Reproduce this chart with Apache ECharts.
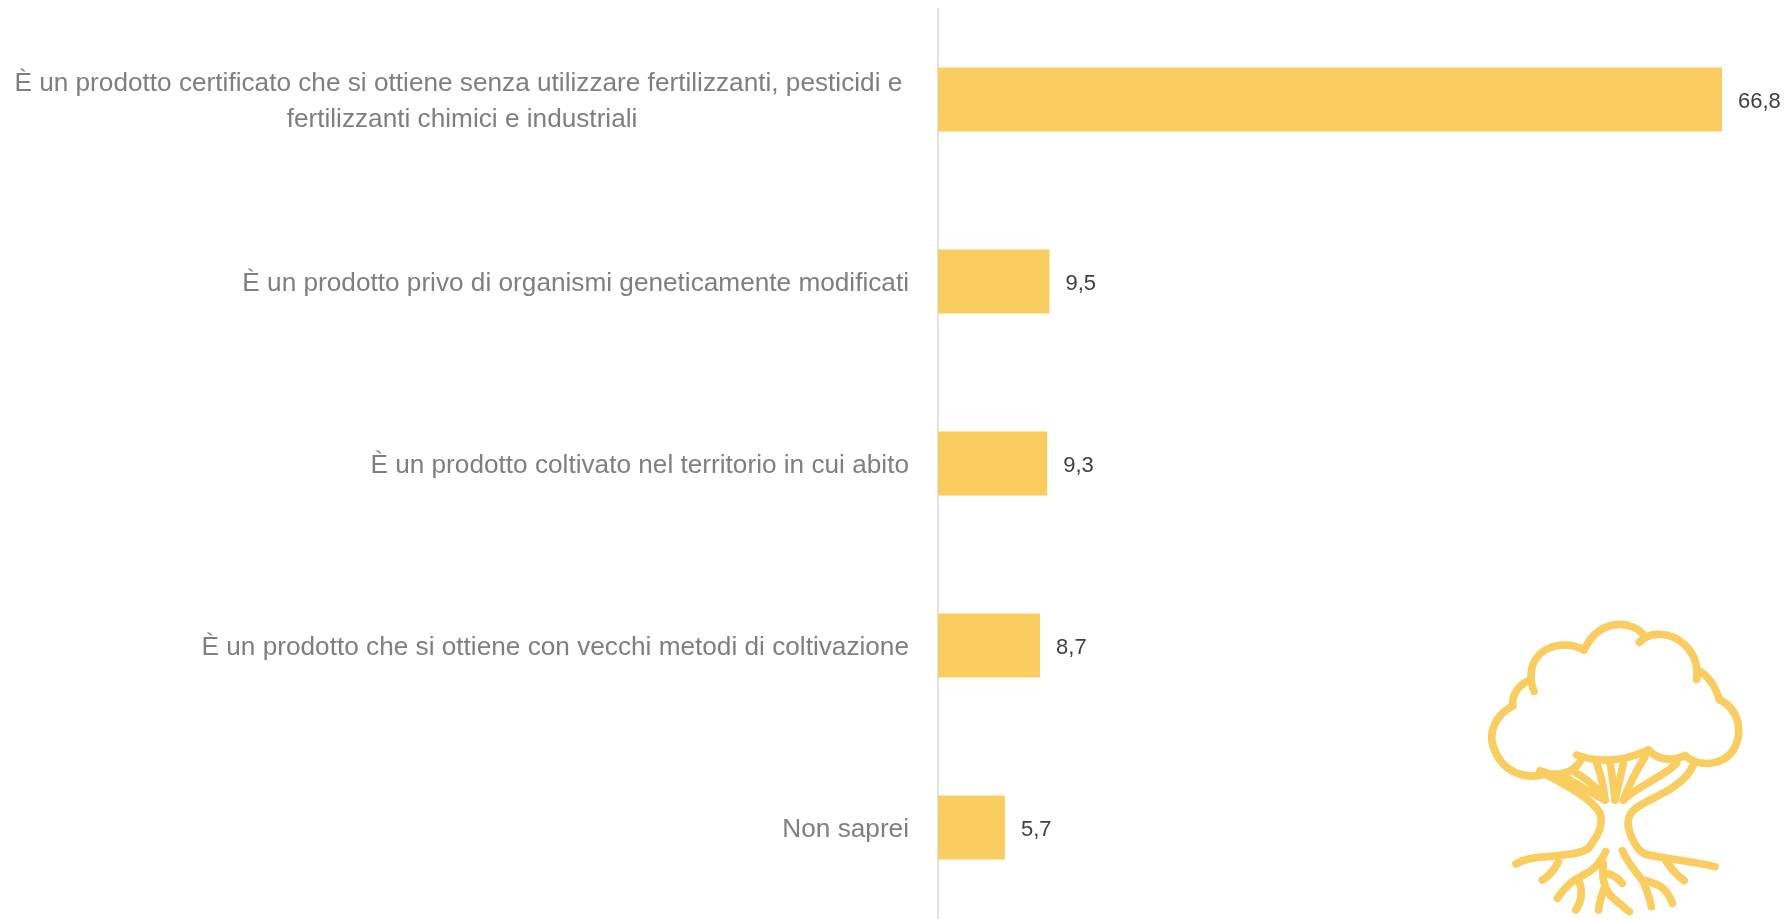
<!DOCTYPE html><html><head><meta charset="utf-8"><style>html,body{margin:0;padding:0;background:#fff}#c{width:1785px;height:919px}</style><script src="https://cdn.jsdelivr.net/npm/echarts@6/dist/echarts.min.js"></script></head><body><div id="c"></div><script>
const categories=["È un prodotto certificato che si ottiene senza utilizzare fertilizzanti, pesticidi e \nfertilizzanti chimici e industriali","È un prodotto privo di organismi geneticamente modificati","È un prodotto coltivato nel territorio in cui abito","È un prodotto che si ottiene con vecchi metodi di coltivazione","Non saprei"];
const values=[66.8,9.5,9.3,8.7,5.7];
const treePaths=[
"M350 465C420 490 490 485 565 450C600 485 640 482 675 467C720 505 790 495 820 450C850 400 840 330 778 298C765 260 750 230 712 210",
"M710 238C720 150 650 100 590 103C570 103 555 110 538 127",
"M555 110C520 60 420 50 372 150C310 115 210 140 213 235C213 250 217 262 222 274",
"M213 240C180 250 155 280 158 318C105 345 85 400 100 440C125 520 200 540 255 522",
"M240 512C280 530 335 525 360 485",
"M255 522C320 555 400 600 420 640C430 670 420 700 385 745C360 765 300 765 260 770C220 772 190 778 168 792",
"M310 530C360 555 410 590 435 600","M345 517C370 530 400 555 425 580","M410 490C425 530 432 565 435 600",
"M450 490C458 530 462 570 465 600","M490 490C482 530 472 570 465 600","M555 470C530 510 505 560 490 600","M650 490C620 525 530 560 490 600",
"M700 495C680 545 620 575 570 600C520 625 500 640 505 680C510 710 530 750 555 762C600 775 680 780 765 800",
"M295 785C280 815 265 830 247 840","M618 783C640 815 655 830 673 842",
"M437 755C425 780 410 805 370 825C340 838 315 860 292 895","M358 845C368 875 365 905 347 930",
"M430 790C425 830 430 860 450 885C470 905 490 920 508 935","M432 820C455 820 475 835 487 850","M432 865C425 885 418 905 416 930",
"M487 752C510 800 535 825 550 845C560 870 570 895 574 920","M550 840C590 850 620 860 637 910"];
function treeElements(){
 const out=[];
 treePaths.forEach(d=>{
  const n=d.match(/-?\d+(\.\d+)?/g).map(Number);
  let x=n[0],y=n[1];
  for(let i=2;i+5<n.length;i+=6){
   out.push({type:'bezierCurve',shape:{x1:x,y1:y,cpx1:n[i],cpy1:n[i+1],cpx2:n[i+2],cpy2:n[i+3],x2:n[i+4],y2:n[i+5]},style:{fill:null,stroke:'#f9cd5f',lineWidth:23,lineCap:'round',lineJoin:'round'}});
   x=n[i+4];y=n[i+5];
  }
 });
 return out;
}
const chart=echarts.init(document.getElementById('c'));
const FONT='Liberation Sans';
chart.setOption({animation:false,
graphic:[{type:'group',x:1460,y:600,scaleX:1/3,scaleY:1/3,silent:true,children:treeElements()}],
grid:{left:938,top:8.5,width:784,height:910,outerBoundsMode:'none'},
xAxis:{type:'value',min:0,max:66.8,show:false},
yAxis:{type:'category',inverse:true,data:categories,axisTick:{show:false},axisLine:{lineStyle:{color:'#e2e2e2',width:2}},
 axisLabel:{margin:29,align:'right',padding:[4,0,0,0],
  formatter:v=>v.includes('\n')?v.split('\n').map(l=>'{c|'+l+'}').join('\n'):'{r|'+v+'}',
  rich:{c:{width:894,align:'center',color:'#7f7f7f',fontFamily:FONT,fontSize:26.2,lineHeight:36},r:{color:'#7f7f7f',fontFamily:FONT,fontSize:26.2,lineHeight:36}}}},
series:[{type:'bar',data:values,barWidth:64,itemStyle:{color:'#f9cd5f'},label:{show:true,position:'right',distance:16,offset:[0,2],color:'#404040',fontFamily:FONT,fontSize:22,formatter:p=>String(p.value).replace('.',',')}}]});
</script></body></html>
